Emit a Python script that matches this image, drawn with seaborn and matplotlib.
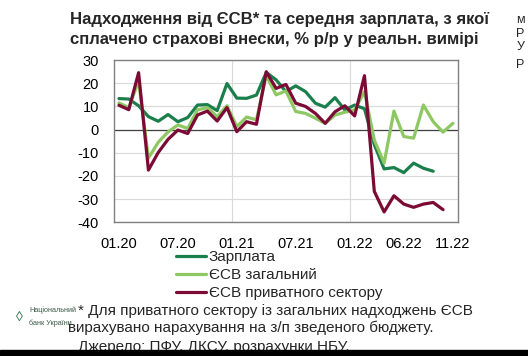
import numpy as np
import pandas as pd
import matplotlib
matplotlib.use("Agg")
import matplotlib.pyplot as plt
import seaborn as sns

# monthly data, 01.2020 - 11.2022, % y/y in real terms
months = [d.strftime("%m.%y") for d in pd.date_range("2020-01-01", "2022-11-01", freq="MS")]

salary = [13.4, 13.2, 10.3, 5.6, 3.6, 6.5, 3.4, 5.2, 10.6, 10.8, 8.2, 19.9,
          13.6, 13.5, 14.9, 24.7, 21.5, 16.4, 18.9, 16.4, 11.4, 9.7, 13.8, 8.5,
          10.6, 9.0, -6.5, -17.0, -16.4, -18.6, -14.5, -16.7, -18.0, np.nan, np.nan]
esv_total = [11.5, 9.5, 21.0, -12.3, -5.5, -1.0, 2.0, 0.5, 8.5, 9.5, 5.6, 10.3,
             1.3, 5.4, 4.2, 23.3, 15.0, 16.7, 7.8, 7.0, 4.9, 2.7, 6.3, 7.5,
             8.5, 16.4, -4.5, -14.5, 8.0, -3.0, -3.7, 10.6, 3.4, -1.1, 2.7]
esv_private = [10.5, 8.6, 24.6, -17.5, -9.9, -4.2, -0.2, -1.7, 6.3, 8.0, 3.7, 9.5,
               -0.9, 3.4, 2.3, 25.0, 17.8, 19.5, 11.4, 10.0, 7.0, 2.7, 7.7, 10.3,
               5.9, 23.3, -26.7, -35.6, -28.6, -32.2, -33.6, -32.2, -31.5, -34.6, np.nan]

series_names = ["Зарплата", "ЄСВ загальний", "ЄСВ приватного сектору"]
colors = ["#1b7f4c", "#8dc862", "#7b0b34"]
tick_labels = ["01.20", "07.20", "01.21", "07.21", "01.22", "06.22", "11.22"]

df = pd.DataFrame({
    "idx": list(range(len(months))) * 3,
    "value": salary + esv_total + esv_private,
    "series": [n for n in series_names for _ in months],
}).dropna()

sns.set_theme(style="white")
plt.rcParams["font.family"] = ["Liberation Sans", "DejaVu Sans"]
plt.rcParams["axes.unicode_minus"] = False

fig = plt.figure(figsize=(5.28, 3.56), dpi=100)
ax = fig.add_axes([0.216, 0.376, 0.651, 0.455])

sns.lineplot(data=df, x="idx", y="value", hue="series", hue_order=series_names,
             palette=colors, lw=2.3, ax=ax, legend=True)

ax.set_xlim(-0.5, len(months) - 0.5)
ax.set_ylim(-40, 30)
ax.set_yticks(range(-40, 31, 10))
ax.set_xticks([months.index(t) for t in tick_labels])
ax.set_xticklabels(tick_labels)
# year boundaries for vertical gridlines
ax.set_xticks([i - 0.5 for i, m in enumerate(months) if m.startswith("01") and i > 0], minor=True)
ax.grid(axis="y", which="major", color="#d9d9d9", lw=0.8)
ax.grid(axis="x", which="minor", color="#d9d9d9", lw=0.8)
ax.grid(axis="x", which="major", visible=False)
ax.set_axisbelow(True)
ax.axhline(0, color="#404040", lw=0.9, zorder=1.5)
ax.tick_params(axis="both", which="both", length=0, labelsize=10.5, colors="black")
ax.tick_params(axis="y", pad=11)
ax.tick_params(axis="x", pad=11)
ax.set_xlabel("")
ax.set_ylabel("")
for s in ax.spines.values():
    s.set_color("#808080")
    s.set_linewidth(1.0)

handles, labels = ax.get_legend_handles_labels()
ax.get_legend().remove()
fig.legend(handles, labels, loc="upper left", bbox_to_anchor=(0.333, 0.298),
           frameon=False, fontsize=11, handlelength=2.0, handletextpad=0.15,
           labelspacing=0.26, borderpad=0, borderaxespad=0)

fig.text(0.1326, 0.967, "Надходження від ЄСВ* та середня зарплата, з якої\n"
         "сплачено страхові внески, % р/р у реальн. вимірі",
         ha="left", va="top", fontsize=12.1, fontweight="bold", linespacing=1.45)

fig.text(0.148, 0.126, "* Для приватного сектору із загальних надходжень ЄСВ",
         fontsize=11, va="center")
fig.text(0.129, 0.078, "вирахувано нарахування на з/п зведеного бюджету.",
         fontsize=11, va="center")
fig.text(0.148, 0.024, "Джерело: ПФУ, ДКСУ, розрахунки НБУ.",
         fontsize=11, va="center")

fig.text(0.055, 0.129, "Національний", fontsize=5.2, color="#3d5a4a", va="center")
fig.text(0.055, 0.093, "банк України", fontsize=5.2, color="#3d5a4a", va="center")
fig.text(0.037, 0.11, "◊", fontsize=10, color="#2e6b4a", va="center", ha="center")

for y, t in [(0.944, "м"), (0.905, "Р"), (0.867, "У"), (0.817, "Р")]:
    fig.text(0.978, y, t, fontsize=9, va="center")

fig.patches.append(plt.Rectangle((0, 0), 1, 0.017, transform=fig.transFigure,
                                 color="black", zorder=10))

fig.savefig("out.png", dpi=100)
